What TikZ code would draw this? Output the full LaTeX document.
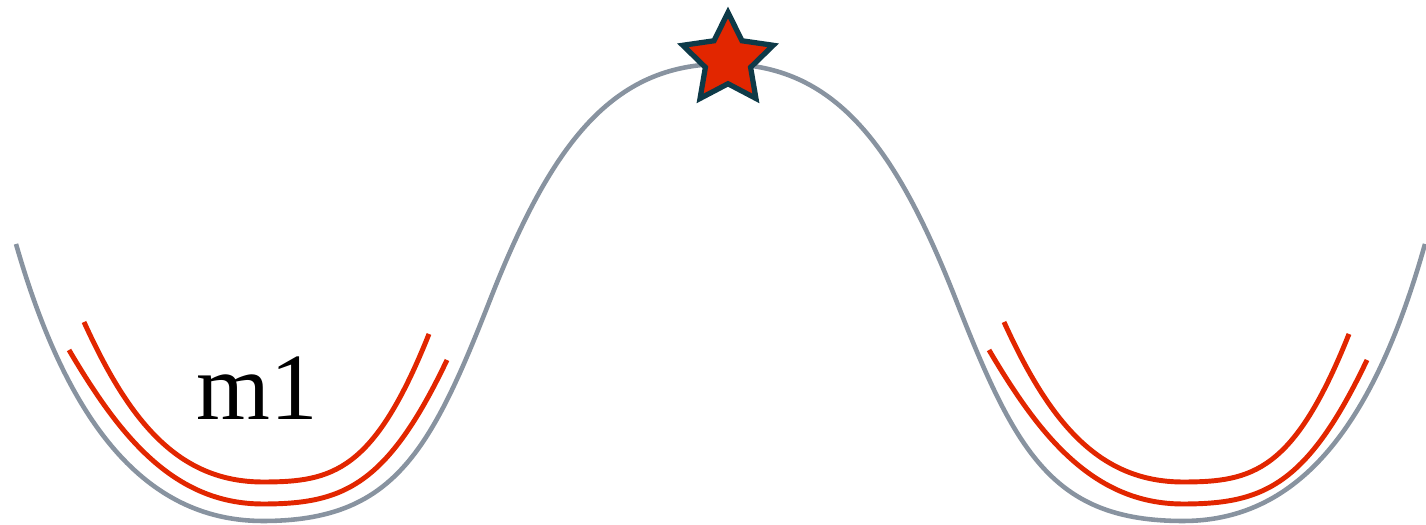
\documentclass[tikz,border=0pt]{standalone}
\usepackage{fontspec}
\setmainfont{Liberation Serif}
\usetikzlibrary{shapes.geometric}
\definecolor{wellgray}{RGB}{136,147,160}
\definecolor{wellred}{RGB}{226,38,0}
\definecolor{stardark}{RGB}{14,58,72}
\tikzset{
  landscape/.style={draw=wellgray, line width=1.3pt},
  level/.style={draw=wellred, line width=1.4pt},
  tsstar/.style={star, star points=5, star point ratio=2, minimum size=0.95cm, inner sep=0pt,
    fill=wellred, draw=stardark, line width=1.5pt, line join=miter},
  lbl/.style={font=\fontsize{27}{30}\selectfont, inner sep=0pt, anchor=base west}
}
\begin{document}
\begin{tikzpicture}[x=0.01cm, y=-0.01cm]
\useasboundingbox (0,0) rectangle (1426,525);
% energy landscape
\coordinate (l0) at (16,244);
\coordinate (lmin) at (263,521);
\coordinate (li) at (490,300);
\coordinate (pk) at (723,64);
\coordinate (ri) at (956,300);
\coordinate (rmin) at (1183,521);
\coordinate (r0) at (1425,244);
\draw[landscape] (l0) .. controls (71,436) and (153,521) .. (lmin)
  .. controls (393,521) and (430,453) .. (li)
  .. controls (552,142) and (613,64) .. (pk)
  .. controls (833,64) and (894,142) .. (ri)
  .. controls (1016,453) and (1053,521) .. (rmin)
  .. controls (1293,521) and (1371,436) .. (r0);
% vibrational levels
\foreach \s in {0,920}{
  \begin{scope}[shift={(\s,0)}]
    \draw[level] (84,322) .. controls (129,421) and (178,482) .. (263,482)
      .. controls (333,482) and (374,471.5) .. (429,334);
    \draw[level] (69,350) .. controls (119,435) and (173,504) .. (263,504)
      .. controls (343,504) and (387,486) .. (447,360);
  \end{scope}
}
\node[tsstar] (ts) at (728,60) {};
\node[lbl] (m1) at (196,420) {m1};
\end{tikzpicture}
\end{document}
